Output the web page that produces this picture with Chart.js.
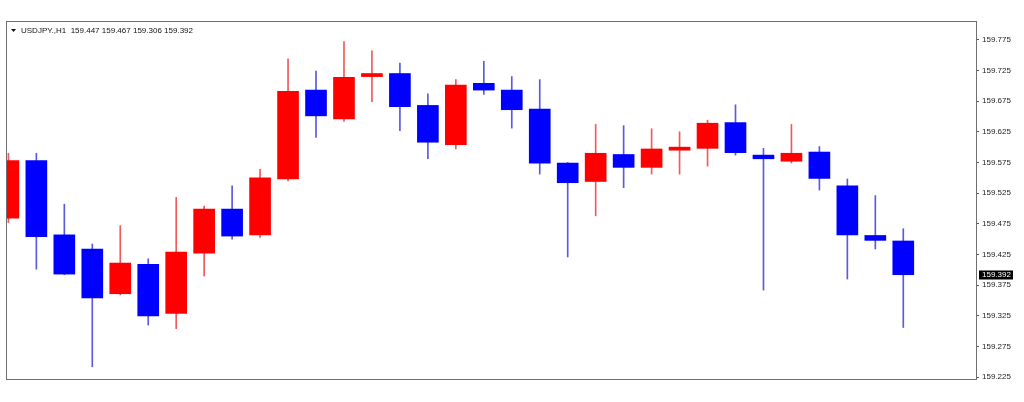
<!DOCTYPE html>
<html>
<head>
<meta charset="utf-8">
<script src="https://cdn.jsdelivr.net/npm/chart.js@4.4.1/dist/chart.umd.min.js"></script>
<style>
    html, body { margin: 0; padding: 0; background: #fff; }
    #wrap { width: 1024px; height: 402px; position: relative; }
</style>
</head>
<body>
<div id="wrap"><canvas id="chart"></canvas></div>
<script>
// =============================================================================
// USDJPY H1 candles
// =============================================================================

const symbol = 'USDJPY.,H1';

const opens  = [159.484, 159.578, 159.457, 159.434, 159.361, 159.409, 159.329, 159.427, 159.499, 159.457,
                159.548, 159.693, 159.646, 159.715, 159.720, 159.668, 159.604, 159.704, 159.693, 159.662,
                159.574, 159.544, 159.588, 159.567, 159.595, 159.598, 159.640, 159.587, 159.577, 159.592,
                159.537, 159.456, 159.447];
const highs  = [159.590, 159.590, 159.507, 159.442, 159.472, 159.418, 159.518, 159.504, 159.537, 159.564,
                159.744, 159.724, 159.772, 159.757, 159.737, 159.687, 159.710, 159.740, 159.715, 159.710,
                159.575, 159.637, 159.635, 159.630, 159.625, 159.644, 159.669, 159.598, 159.637, 159.601,
                159.548, 159.521, 159.467];
const lows   = [159.477, 159.401, 159.392, 159.242, 159.359, 159.310, 159.304, 159.390, 159.450, 159.453,
                159.545, 159.616, 159.642, 159.674, 159.627, 159.581, 159.597, 159.686, 159.631, 159.556,
                159.421, 159.488, 159.534, 159.556, 159.556, 159.569, 159.587, 159.367, 159.574, 159.530,
                159.385, 159.434, 159.306];
const closes = [159.578, 159.454, 159.393, 159.354, 159.411, 159.325, 159.429, 159.499, 159.455, 159.550,
                159.691, 159.651, 159.714, 159.720, 159.666, 159.608, 159.701, 159.693, 159.661, 159.574,
                159.542, 159.590, 159.567, 159.597, 159.600, 159.639, 159.591, 159.581, 159.590, 159.549,
                159.457, 159.448, 159.392];

const tickValues = [159.775, 159.725, 159.675, 159.625, 159.575, 159.525,
                    159.475, 159.425, 159.375, 159.325, 159.275, 159.225];
const tickLabels = ['159.775', '159.725', '159.675', '159.625', '159.575', '159.525',
                    '159.475', '159.425', '159.375', '159.325', '159.275', '159.225'];

const UP = '#ff0000';
const DOWN = '#0000ff';
const UP_WICK = '#f05a5a';
const DOWN_WICK = '#5a5ae0';
const FONT = '"Liberation Sans", Arial, sans-serif';

const bodies = opens.map((o, i) => ({ x: i, y: [o, closes[i]] }));
const wicks = highs.map((h, i) => ({ x: i, y: [lows[i], h] }));
const bodyColors = opens.map((o, i) => closes[i] >= o ? UP : DOWN);
const wickColors = opens.map((o, i) => closes[i] >= o ? UP_WICK : DOWN_WICK);

const last = closes.length - 1;

const overlay = {
    id: 'overlay',
    afterDraw(chart) {
        const { ctx, chartArea: a, scales } = chart;
        ctx.save();

        // frame
        ctx.strokeStyle = '#6f6f6f';
        ctx.lineWidth = 1;
        ctx.strokeRect(a.left - 0.5, a.top - 0.5, a.right - a.left + 1, a.bottom - a.top + 1);

        // header
        ctx.fillStyle = '#111';
        ctx.beginPath();
        ctx.moveTo(a.left + 4, a.top + 7);
        ctx.lineTo(a.left + 9, a.top + 7);
        ctx.lineTo(a.left + 6.5, a.top + 10);
        ctx.closePath();
        ctx.fill();
        ctx.font = '8px ' + FONT;
        ctx.textBaseline = 'middle';
        const head = `${symbol}  ${opens[last].toFixed(3)} ${highs[last].toFixed(3)} ${lows[last].toFixed(3)} ${closes[last].toFixed(3)}`;
        ctx.fillText(head, a.left + 14, a.top + 8.5);

        // last price tag
        const py = Math.round(scales.y.getPixelForValue(closes[last]));
        ctx.fillStyle = '#000';
        ctx.fillRect(a.right + 3, py - 4.5, 34, 9);
        ctx.fillStyle = '#fff';
        ctx.fillText(closes[last].toFixed(3), a.right + 6, py);

        ctx.restore();
    }
};

new Chart(document.getElementById('chart'), {
    type: 'bar',
    data: {
        datasets: [
            {
                label: 'body',
                data: bodies,
                backgroundColor: bodyColors,
                borderWidth: 0,
                barThickness: 21,
                grouped: false,
                order: 0
            },
            {
                label: 'wick',
                data: wicks,
                backgroundColor: wickColors,
                borderWidth: 0,
                barThickness: 1,
                grouped: false,
                order: 1
            }
        ]
    },
    options: {
        responsive: true,
        maintainAspectRatio: false,
        animation: false,
        layout: { padding: { left: 7, top: 22, right: 0, bottom: 23 } },
        plugins: {
            legend: { display: false },
            tooltip: { enabled: false }
        },
        scales: {
            x: { type: 'linear', min: -0.05, max: 34.6, offset: false, display: false },
            y: {
                position: 'right',
                min: 159.222,
                max: 159.804,
                afterBuildTicks: s => { s.ticks = tickValues.map(v => ({ value: v })); },
                afterFit: s => { s.width = 48; },
                border: { display: false },
                grid: { drawOnChartArea: false, tickLength: 3, color: '#555' },
                ticks: {
                    font: { family: FONT, size: 8 },
                    color: '#222',
                    padding: 3,
                    callback: (v, i) => tickLabels[i]
                }
            }
        }
    },
    plugins: [overlay]
});
</script>
</body>
</html>
